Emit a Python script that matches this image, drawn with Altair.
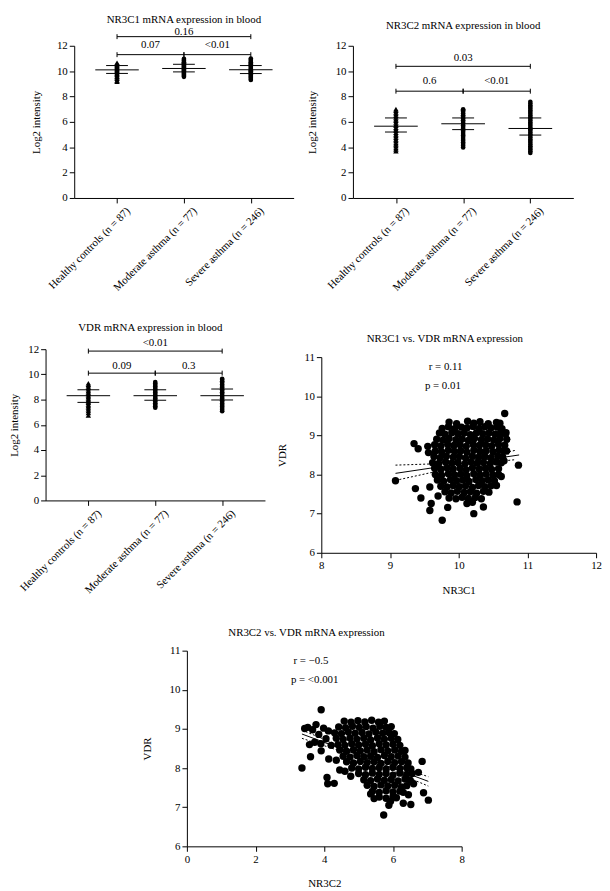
import altair as alt
import pandas as pd

FONT = "Liberation Serif"

groups = ["Healthy controls (n = 87)", "Moderate asthma (n = 77)", "Severe asthma (n = 246)"]
group_pos = [1, 2, 3]

# ---------------- NR3C1 mRNA expression in blood ----------------
nr3c1_healthy = [9.18, 9.27, 9.41, 9.52, 9.58, 9.7, 9.79, 9.86, 9.95, 10.02, 10.1, 10.17, 10.25, 10.33, 10.41, 10.5, 10.58, 10.66]
nr3c1_moderate = [9.55, 9.63, 9.72, 9.8, 9.88, 9.97, 10.05, 10.12, 10.2, 10.28, 10.37, 10.45, 10.53, 10.62, 10.7, 10.79, 10.88, 10.97]
nr3c1_severe = [9.3, 9.38, 9.47, 9.56, 9.64, 9.73, 9.82, 9.9, 9.99, 10.08, 10.16, 10.25, 10.34, 10.43, 10.52, 10.61, 10.7, 10.8, 10.9, 10.99]
nr3c1_center = [10.1, 10.21, 10.11]
nr3c1_upper = [10.44, 10.54, 10.44]
nr3c1_lower = [9.82, 9.94, 9.81]
nr3c1_br_from = [1, 2, 1]
nr3c1_br_to = [2, 3, 3]
nr3c1_br_level = [11.3, 11.3, 12.72]
nr3c1_br_p = ["0.07", "<0.01", "0.16"]
nr3c1_br_p_y = [12.08, 12.08, 13.1]

# ---------------- NR3C2 mRNA expression in blood ----------------
nr3c2_healthy = [3.7, 3.82, 3.95, 4.1, 4.22, 4.35, 4.5, 4.62, 4.75, 4.9, 5.02, 5.15, 5.3, 5.42, 5.55, 5.7, 5.82, 5.95, 6.1, 6.22, 6.35, 6.5, 6.62, 6.75, 6.88, 7.0]
nr3c2_moderate = [3.98, 4.12, 4.25, 4.38, 4.52, 4.65, 4.8, 4.92, 5.05, 5.2, 5.33, 5.46, 5.6, 5.72, 5.86, 6.0, 6.12, 6.26, 6.4, 6.52, 6.66, 6.8, 6.92, 7.0]
nr3c2_severe = [3.55, 3.68, 3.82, 3.95, 4.08, 4.22, 4.35, 4.5, 4.62, 4.76, 4.9, 5.02, 5.16, 5.3, 5.42, 5.56, 5.7, 5.83, 5.96, 6.1, 6.24, 6.37, 6.5, 6.64, 6.78, 6.9, 7.04, 7.18, 7.3, 7.45, 7.58]
nr3c2_center = [5.66, 5.85, 5.48]
nr3c2_upper = [6.31, 6.31, 6.31]
nr3c2_lower = [5.2, 5.39, 4.96]
nr3c2_br_from = [1, 2, 1]
nr3c2_br_to = [2, 3, 3]
nr3c2_br_level = [8.42, 8.42, 10.38]
nr3c2_br_p = ["0.6", "<0.01", "0.03"]
nr3c2_br_p_y = [9.2, 9.2, 11.0]

# ---------------- VDR mRNA expression in blood ----------------
vdr_healthy = [6.75, 6.95, 7.1, 7.25, 7.38, 7.5, 7.62, 7.75, 7.86, 7.98, 8.1, 8.22, 8.34, 8.46, 8.58, 8.7, 8.82, 8.94, 9.06, 9.18, 9.3]
vdr_moderate = [7.35, 7.47, 7.6, 7.72, 7.84, 7.96, 8.08, 8.2, 8.32, 8.44, 8.56, 8.68, 8.8, 8.92, 9.04, 9.16, 9.28, 9.4]
vdr_severe = [7.08, 7.2, 7.33, 7.46, 7.58, 7.7, 7.82, 7.95, 8.08, 8.2, 8.33, 8.46, 8.58, 8.7, 8.83, 8.96, 9.08, 9.2, 9.33, 9.46, 9.58, 9.65]
vdr_center = [8.31, 8.31, 8.31]
vdr_upper = [8.78, 8.78, 8.84]
vdr_lower = [7.78, 7.95, 7.97]
vdr_br_from = [1, 2, 1]
vdr_br_to = [2, 3, 3]
vdr_br_level = [10.1, 10.1, 11.85]
vdr_br_p = ["0.09", "0.3", "<0.01"]
vdr_br_p_y = [10.69, 10.69, 12.45]

# ---------------- NR3C1 vs. VDR (x = NR3C1, y = VDR) ----------------
nr3c1_vdr_points = [
    (9.86, 9.34), (9.97, 9.3), (10.13, 9.36), (10.22, 9.31), (10.31, 9.35), (10.43, 9.3), (10.55, 9.33),
    (9.76, 9.18), (9.85, 9.22), (9.94, 9.17), (10.04, 9.21), (10.12, 9.19), (10.21, 9.23), (10.3, 9.18), (10.38, 9.22), (10.47, 9.19), (10.56, 9.21), (10.63, 9.17),
    (9.72, 9.06), (9.8, 9.03), (9.9, 9.07), (9.99, 9.04), (10.08, 9.06), (10.17, 9.02), (10.26, 9.07), (10.35, 9.04), (10.44, 9.06), (10.53, 9.03), (10.61, 9.07), (10.68, 9.04),
    (9.68, 8.9), (9.77, 8.88), (9.86, 8.92), (9.96, 8.89), (10.05, 8.91), (10.14, 8.87), (10.23, 8.92), (10.33, 8.89), (10.42, 8.91), (10.51, 8.88), (10.6, 8.92), (10.7, 8.9),
    (9.65, 8.76), (9.74, 8.73), (9.84, 8.77), (9.93, 8.74), (10.02, 8.76), (10.11, 8.72), (10.21, 8.77), (10.3, 8.74), (10.39, 8.76), (10.48, 8.73), (10.58, 8.77), (10.67, 8.75),
    (9.66, 8.6), (9.75, 8.58), (9.85, 8.62), (9.94, 8.59), (10.03, 8.61), (10.12, 8.57), (10.22, 8.62), (10.31, 8.59), (10.4, 8.61), (10.5, 8.58), (10.59, 8.62), (10.66, 8.6),
    (9.64, 8.46), (9.73, 8.43), (9.82, 8.47), (9.92, 8.44), (10.01, 8.46), (10.1, 8.42), (10.2, 8.47), (10.29, 8.44), (10.38, 8.46), (10.47, 8.43), (10.57, 8.47), (10.64, 8.45),
    (9.62, 8.3), (9.71, 8.28), (9.81, 8.32), (9.9, 8.29), (9.99, 8.31), (10.09, 8.27), (10.18, 8.32), (10.27, 8.29), (10.36, 8.31), (10.46, 8.28), (10.55, 8.32), (10.62, 8.3),
    (9.65, 8.16), (9.74, 8.13), (9.83, 8.17), (9.92, 8.14), (10.02, 8.16), (10.11, 8.12), (10.2, 8.17), (10.3, 8.14), (10.39, 8.16), (10.48, 8.13), (10.58, 8.15),
    (9.66, 8.0), (9.75, 7.98), (9.85, 8.02), (9.94, 7.99), (10.03, 8.01), (10.12, 7.97), (10.22, 8.02), (10.31, 7.99), (10.4, 8.01), (10.5, 7.98), (10.58, 8.0),
    (9.69, 7.86), (9.78, 7.83), (9.88, 7.87), (9.97, 7.84), (10.06, 7.86), (10.15, 7.82), (10.25, 7.87), (10.34, 7.84), (10.43, 7.86), (10.52, 7.84),
    (9.74, 7.7), (9.83, 7.68), (9.92, 7.72), (10.01, 7.69), (10.1, 7.71), (10.2, 7.67), (10.29, 7.72), (10.38, 7.69), (10.47, 7.71),
    (9.8, 7.56), (9.89, 7.53), (9.98, 7.57), (10.08, 7.54), (10.17, 7.56), (10.26, 7.52), (10.36, 7.57), (10.44, 7.55),
    (9.86, 7.4), (9.96, 7.38), (10.05, 7.42), (10.14, 7.39), (10.24, 7.41), (10.33, 7.38),
    (10.12, 7.26), (10.2, 7.29),
    (9.08, 7.84), (9.35, 8.79), (9.41, 8.66), (9.55, 8.72), (9.56, 8.56), (9.37, 7.64), (9.45, 7.4),
    (9.58, 7.68), (9.6, 7.26), (9.58, 7.08), (9.76, 6.83), (9.84, 7.16), (9.7, 7.45), (10.22, 7.0),
    (10.36, 7.17), (10.67, 9.56), (10.55, 7.72), (10.87, 8.24), (10.85, 7.3), (10.7, 8.6), (10.6, 9.31),
    (10.69, 9.07), (10.66, 8.35), (10.62, 7.95),
]
nr3c1_vdr_fit = [(9.08, 8.03), (10.88, 8.5)]
nr3c1_vdr_ci_hi = [(9.08, 8.24), (9.6, 8.27), (10.15, 8.35), (10.83, 8.62)]
nr3c1_vdr_ci_lo = [(9.08, 7.85), (9.6, 8.05), (10.15, 8.26), (10.83, 8.38)]
nr3c1_vdr_ann = ["r = 0.11", "p = 0.01"]
nr3c1_vdr_ann_x = [9.81, 9.77]
nr3c1_vdr_ann_y = [10.75, 10.26]

# ---------------- NR3C2 vs. VDR (x = NR3C2, y = VDR) ----------------
nr3c2_vdr_points = [
    (4.58, 9.2), (4.78, 9.17), (4.98, 9.21), (5.18, 9.18), (5.38, 9.22), (5.58, 9.17), (5.75, 9.2),
    (4.42, 9.05), (4.62, 9.03), (4.82, 9.07), (5.02, 9.04), (5.22, 9.06), (5.42, 9.02), (5.62, 9.07), (5.8, 9.04), (5.95, 9.06),
    (4.3, 8.9), (4.5, 8.88), (4.7, 8.92), (4.9, 8.89), (5.1, 8.91), (5.3, 8.87), (5.5, 8.92), (5.7, 8.89), (5.88, 8.91), (6.04, 8.88),
    (4.35, 8.76), (4.55, 8.73), (4.75, 8.77), (4.95, 8.74), (5.15, 8.76), (5.35, 8.72), (5.55, 8.77), (5.75, 8.74), (5.95, 8.76), (6.14, 8.73),
    (4.4, 8.6), (4.6, 8.58), (4.8, 8.62), (5.0, 8.59), (5.2, 8.61), (5.4, 8.57), (5.6, 8.62), (5.8, 8.59), (6.0, 8.61), (6.2, 8.58),
    (4.45, 8.46), (4.65, 8.43), (4.85, 8.47), (5.05, 8.44), (5.25, 8.46), (5.45, 8.42), (5.65, 8.47), (5.85, 8.44), (6.05, 8.46), (6.25, 8.43), (6.35, 8.45),
    (4.55, 8.3), (4.75, 8.28), (4.95, 8.32), (5.15, 8.29), (5.35, 8.31), (5.55, 8.27), (5.75, 8.32), (5.95, 8.29), (6.15, 8.31), (6.35, 8.28),
    (4.65, 8.16), (4.85, 8.13), (5.05, 8.17), (5.25, 8.14), (5.45, 8.16), (5.65, 8.12), (5.85, 8.17), (6.05, 8.14), (6.25, 8.16), (6.44, 8.13),
    (4.8, 8.0), (5.0, 7.98), (5.2, 8.02), (5.4, 7.99), (5.6, 8.01), (5.8, 7.97), (6.0, 8.02), (6.2, 7.99), (6.4, 8.01), (6.52, 7.98),
    (5.0, 7.86), (5.2, 7.83), (5.4, 7.87), (5.6, 7.84), (5.8, 7.86), (6.0, 7.82), (6.2, 7.87), (6.4, 7.84), (6.56, 7.86),
    (5.15, 7.7), (5.35, 7.68), (5.55, 7.72), (5.75, 7.69), (5.95, 7.71), (6.15, 7.67), (6.35, 7.72), (6.5, 7.69),
    (5.25, 7.56), (5.45, 7.53), (5.65, 7.57), (5.85, 7.54), (6.05, 7.56), (6.25, 7.52), (6.4, 7.55),
    (5.4, 7.4), (5.6, 7.38), (5.8, 7.42), (6.0, 7.39), (6.2, 7.41), (6.3, 7.38),
    (5.6, 7.26), (5.8, 7.23), (6.0, 7.27), (6.1, 7.24),
    (3.91, 9.49), (3.43, 9.01), (3.52, 9.04), (3.35, 8.0), (3.6, 8.29), (3.57, 8.6), (3.91, 8.44),
    (4.13, 8.23), (4.08, 7.76), (4.1, 7.6), (4.29, 7.61), (3.76, 9.11), (4.77, 7.79), (5.73, 6.8),
    (5.88, 7.05), (5.93, 7.15), (6.52, 7.07), (7.03, 7.18), (6.89, 7.37), (6.85, 8.17), (6.74, 7.89),
    (5.35, 7.34), (5.45, 7.22), (3.66, 8.98), (3.84, 8.86), (3.98, 9.02), (4.12, 8.95), (4.05, 8.75),
    (3.9, 8.62), (3.72, 8.66), (4.2, 8.58), (4.45, 7.95), (4.6, 7.92), (6.45, 7.32), (6.6, 7.6), (6.3, 7.1),
    (4.35, 8.2),
]
nr3c2_vdr_fit = [(3.35, 8.87), (7.03, 7.66)]
nr3c2_vdr_ci_hi = [(3.35, 8.97), (5.2, 8.3), (7.03, 7.78)]
nr3c2_vdr_ci_lo = [(3.35, 8.76), (5.2, 8.22), (7.03, 7.54)]
nr3c2_vdr_ann = ["r = \u22120.5", "p = <0.001"]
nr3c2_vdr_ann_x = [3.61, 3.72]
nr3c2_vdr_ann_y = [10.74, 10.24]


def spacer(w, h):
    return alt.Chart(pd.DataFrame({"z": [0]})).mark_point(
        opacity=0, size=1, strokeWidth=0
    ).encode(x=alt.value(w / 2), y=alt.value(h / 2)).properties(width=w, height=h)


def dot_panel(title, title_dx, title_offset, ytitle_x, width, height,
              healthy, moderate, severe, center, upper, lower,
              br_from, br_to, br_level, br_p, br_p_y):
    xs = alt.Scale(domain=[0.36, 3.64], nice=False, zero=False)
    ys = alt.Scale(domain=[0, 12], nice=False, zero=False)
    expr = "datum.value == 1 ? '%s' : datum.value == 2 ? '%s' : '%s'" % tuple(groups)
    xaxis = alt.Axis(values=group_pos, labelExpr=expr, labelAngle=-45, labelAlign="right",
                     labelBaseline="top", labelOffset=7, title=None)
    yaxis = alt.Axis(values=[0, 2, 4, 6, 8, 10, 12], title="Log2 intensity",
                     titleX=ytitle_x, titleBaseline="middle")

    def X(f):
        return alt.X(f, type="quantitative", scale=xs, axis=xaxis)

    def Y(f):
        return alt.Y(f, type="quantitative", scale=ys, axis=yaxis)

    pts = pd.DataFrame({
        "g": [1] * len(healthy) + [2] * len(moderate) + [3] * len(severe),
        "v": healthy + moderate + severe,
    })
    base = alt.Chart(pts)
    tri = base.transform_filter("datum.g == 1").mark_point(
        shape="triangle-up", filled=True, size=30, color="black", opacity=1
    ).encode(x=X("g"), y=Y("v"))
    circ = base.transform_filter("datum.g > 1").mark_circle(
        size=22, color="black", opacity=1
    ).encode(x=X("g"), y=Y("v"))

    stats = pd.DataFrame({"g": group_pos, "c": center, "u": upper, "l": lower})
    sb = alt.Chart(stats).transform_calculate(
        m1="datum.g - 0.325", m2="datum.g + 0.325",
        s1="datum.g - 0.163", s2="datum.g + 0.163")
    mean_rule = sb.mark_rule(color="black", strokeWidth=1).encode(x=X("m1"), x2="m2:Q", y=Y("c"))
    up_rule = sb.mark_rule(color="black", strokeWidth=1).encode(x=X("s1"), x2="s2:Q", y=Y("u"))
    lo_rule = sb.mark_rule(color="black", strokeWidth=1).encode(x=X("s1"), x2="s2:Q", y=Y("l"))

    br = pd.DataFrame({"a": br_from, "b": br_to, "lv": br_level, "p": br_p, "py": br_p_y})
    bb = alt.Chart(br).transform_calculate(mid="(datum.a + datum.b) / 2")
    br_rule = bb.mark_rule(color="black", strokeWidth=1).encode(x=X("a"), x2="b:Q", y=Y("lv"))
    br_t1 = bb.mark_point(shape="M0,-1L0,1", size=25, filled=False, color="black",
                          strokeWidth=1, opacity=1).encode(x=X("a"), y=Y("lv"))
    br_t2 = bb.mark_point(shape="M0,-1L0,1", size=25, filled=False, color="black",
                          strokeWidth=1, opacity=1).encode(x=X("b"), y=Y("lv"))
    br_txt = bb.mark_text(font=FONT, fontSize=11, color="black", baseline="middle").encode(
        x=X("mid"), y=Y("py"), text="p:N")

    return alt.layer(circ, tri, mean_rule, up_rule, lo_rule, br_rule, br_t1, br_t2, br_txt).properties(
        width=width, height=height,
        title=alt.TitleParams(title, dx=title_dx, offset=title_offset))


def scatter_panel(title, title_dx, title_offset, xtitle, ytitle_x, xdomain, xticks, width, height,
                  pts, fit, ci_hi, ci_lo, ann, ann_x, ann_y):
    xs = alt.Scale(domain=xdomain, nice=False, zero=False)
    ys = alt.Scale(domain=[6, 11], nice=False, zero=False)
    xaxis = alt.Axis(values=xticks, title=xtitle, titlePadding=14)
    yaxis = alt.Axis(values=[6, 7, 8, 9, 10, 11], title="VDR", titleX=ytitle_x, titleBaseline="middle")

    def X(f):
        return alt.X(f, type="quantitative", scale=xs, axis=xaxis)

    def Y(f):
        return alt.Y(f, type="quantitative", scale=ys, axis=yaxis)

    df = pd.DataFrame(pts, columns=["x", "y"])
    circles = alt.Chart(df).mark_circle(size=56, color="black", opacity=1).encode(x=X("x"), y=Y("y"))
    fit_df = pd.DataFrame(fit, columns=["x", "y"])
    line = alt.Chart(fit_df).mark_line(color="black", strokeWidth=1).encode(x=X("x"), y=Y("y"))
    ci_df = pd.DataFrame([(x, y, "hi") for x, y in ci_hi] + [(x, y, "lo") for x, y in ci_lo],
                         columns=["x", "y", "band"])
    ci = alt.Chart(ci_df).mark_line(color="black", strokeWidth=1, strokeDash=[2, 2]).encode(
        x=X("x"), y=Y("y"), detail="band:N")
    ann_df = pd.DataFrame({"t": ann, "x": ann_x, "y": ann_y})
    txt = alt.Chart(ann_df).mark_text(font=FONT, fontSize=11, color="black", baseline="middle").encode(
        x=X("x"), y=Y("y"), text="t:N")
    return alt.layer(circles, line, ci, txt).properties(
        width=width, height=height,
        title=alt.TitleParams(title, dx=title_dx, offset=title_offset))


A = dot_panel("NR3C1 mRNA expression in blood", 0, 1, -38, 222, 154,
              nr3c1_healthy, nr3c1_moderate, nr3c1_severe, nr3c1_center, nr3c1_upper, nr3c1_lower,
              nr3c1_br_from, nr3c1_br_to, nr3c1_br_level, nr3c1_br_p, nr3c1_br_p_y)
B = dot_panel("NR3C2 mRNA expression in blood", 0, 9, -40.5, 223, 154,
              nr3c2_healthy, nr3c2_moderate, nr3c2_severe, nr3c2_center, nr3c2_upper, nr3c2_lower,
              nr3c2_br_from, nr3c2_br_to, nr3c2_br_level, nr3c2_br_p, nr3c2_br_p_y)
C = dot_panel("VDR mRNA expression in blood", -5, 5, -31, 222, 153,
              vdr_healthy, vdr_moderate, vdr_severe, vdr_center, vdr_upper, vdr_lower,
              vdr_br_from, vdr_br_to, vdr_br_level, vdr_br_p, vdr_br_p_y)
D = scatter_panel("NR3C1 vs. VDR mRNA expression", -14, 7, "NR3C1", -39, [8, 12], [8, 9, 10, 11, 12], 278, 198,
                  nr3c1_vdr_points, nr3c1_vdr_fit, nr3c1_vdr_ci_hi, nr3c1_vdr_ci_lo,
                  nr3c1_vdr_ann, nr3c1_vdr_ann_x, nr3c1_vdr_ann_y)
E = scatter_panel("NR3C2 vs. VDR mRNA expression", -18, 7, "NR3C2", -39.5, [0, 8], [0, 2, 4, 6, 8], 278, 198,
                  nr3c2_vdr_points, nr3c2_vdr_fit, nr3c2_vdr_ci_hi, nr3c2_vdr_ci_lo,
                  nr3c2_vdr_ann, nr3c2_vdr_ann_x, nr3c2_vdr_ann_y)

row1 = alt.hconcat(spacer(23, 1), A, spacer(13, 1), B, spacing=0)
Cw = alt.vconcat(spacer(1, 1), C, spacing=0)
Dw = alt.vconcat(spacer(1, 13), D, spacing=0)
row2 = alt.hconcat(spacer(1, 1), Cw, spacer(12, 1), Dw, spacing=0)
row3 = alt.hconcat(spacer(135, 1), E, spacing=0)

chart = alt.vconcat(row1, spacer(1, 28), row2, spacer(1, 32), row3, spacing=0).properties(
    padding=0
).configure_view(stroke=None).configure_axis(
    domainColor="black", domainWidth=1, tickColor="black", tickWidth=1, tickSize=5,
    labelFont=FONT, labelFontSize=11, labelColor="black", labelPadding=2,
    labelFlush=False, labelOverlap=False, grid=False,
    titleFont=FONT, titleFontSize=11, titleFontWeight="normal", titleColor="black",
).configure_title(
    font=FONT, fontSize=11, fontWeight="normal", color="black", anchor="middle", frame="group"
)

chart.save("out.html", embed_options={"renderer": "svg", "actions": False})
